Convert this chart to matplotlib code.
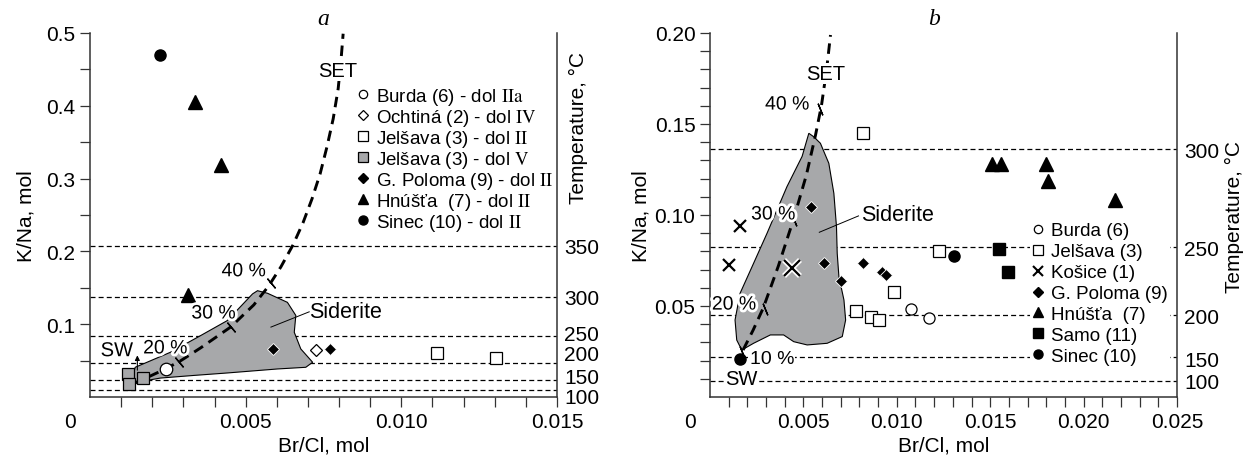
import numpy as np
import matplotlib
matplotlib.use("Agg")
import matplotlib.pyplot as plt
from matplotlib.lines import Line2D
import matplotlib.patheffects as pe

plt.rcParams['font.family'] = ['Liberation Sans', 'DejaVu Sans']
plt.rcParams['mathtext.fontset'] = 'stix'

GRAY = '#a7a8aa'

# ---------------- panel a data ----------------
a_burda_x = [0.00245]
a_burda_y = [0.038]
a_ocht_x = [0.00726]
a_ocht_y = [0.064]
a_jel2_x = [0.01113, 0.01303]
a_jel2_y = [0.060, 0.053]
a_jel5_x = [0.00123, 0.00126, 0.00171]
a_jel5_y = [0.032, 0.018, 0.026]
a_polo_x = [0.00588, 0.0077]
a_polo_y = [0.066, 0.066]
a_hnus_x = [0.00336, 0.00422, 0.00315]
a_hnus_y = [0.405, 0.319, 0.140]
a_sinec_x = [0.00226]
a_sinec_y = [0.470]

a_set_x = [0.00139, 0.00242, 0.0029, 0.00355, 0.00452, 0.00526, 0.00574, 0.00613, 0.00652,
           0.00684, 0.00713, 0.00739, 0.00761, 0.00781, 0.00797, 0.00806, 0.00813]
a_set_y = [0.0179, 0.0385, 0.0495, 0.0674, 0.0962, 0.1265, 0.1526, 0.1787, 0.2089,
           0.2392, 0.2722, 0.3065, 0.3436, 0.3821, 0.4234, 0.4619, 0.499]
a_pct_x = [0.00287, 0.00452, 0.0058]
a_pct_y = [0.048, 0.0962, 0.157]

a_sid_x = [0.00134, 0.00145, 0.00183, 0.00258, 0.00355, 0.00441, 0.00522, 0.00538, 0.00570, 0.00634,
           0.00661, 0.00656, 0.00677, 0.00715, 0.00693, 0.00602, 0.00441, 0.00333, 0.00226, 0.00161]
a_sid_y = [0.0224, 0.0408, 0.0477, 0.0614, 0.0843, 0.105, 0.1416, 0.146, 0.1425, 0.130,
           0.112, 0.0889, 0.066, 0.0477, 0.0408, 0.0385, 0.033, 0.0296, 0.026, 0.0211]

a_temp_lines = [0.2076, 0.1375, 0.084, 0.047, 0.0234, 0.0096]
a_temp_pos = [0.2076, 0.1375, 0.088, 0.0605, 0.030, 0.0014]
a_temp_lab = ['350', '300', '250', '200', '150', '100']

# ---------------- panel b data ----------------
b_burda_x = [0.01075, 0.01174]
b_burda_y = [0.0482, 0.0432]
b_jel_x = [0.00821, 0.00986, 0.00783, 0.0086, 0.00905, 0.01228]
b_jel_y = [0.1452, 0.0579, 0.0473, 0.0441, 0.0423, 0.0804]
b_kos_x = [0.00161, 0.00104]
b_kos_y = [0.0941, 0.0725]
b_kos_big_x = [0.00439]
b_kos_big_y = [0.0707]
b_polo_x = [0.00543, 0.00609, 0.00703, 0.00821, 0.0092, 0.0094]
b_polo_y = [0.1046, 0.0738, 0.0637, 0.0738, 0.0685, 0.0670]
b_hnus_x = [0.01511, 0.01559, 0.01801, 0.0181, 0.02168]
b_hnus_y = [0.1278, 0.1278, 0.1278, 0.1187, 0.1082]
b_samo_x = [0.01547, 0.01595]
b_samo_y = [0.0811, 0.0689]
b_sinec_x = [0.00161, 0.01305]
b_sinec_y = [0.0207, 0.0775]

b_set_x = [0.00177, 0.00231, 0.00285, 0.00366, 0.00446, 0.00516, 0.00565, 0.00597, 0.00624, 0.00645]
b_set_y = [0.0258, 0.0368, 0.0489, 0.0720, 0.0973, 0.1220, 0.1440, 0.1604, 0.1797, 0.1989]
b_pct_x = [0.00172, 0.00292, 0.0045, 0.0059]
b_pct_y = [0.0247, 0.0484, 0.097, 0.158]

b_sid_x = [0.00529, 0.00493, 0.00412, 0.00305, 0.00233, 0.00161, 0.00134, 0.00143, 0.0017, 0.00233,
           0.00323, 0.00394, 0.00448, 0.0052, 0.00627, 0.00708, 0.00726, 0.00717, 0.0069, 0.00681,
           0.00677, 0.00663, 0.00636, 0.00591, 0.00555]
b_sid_y = [0.1449, 0.1322, 0.1156, 0.0899, 0.0734, 0.0570, 0.0423, 0.0313, 0.0258, 0.0295,
           0.0341, 0.0341, 0.0304, 0.0286, 0.0295, 0.0332, 0.0423, 0.0533, 0.0661, 0.0789,
           0.0936, 0.1119, 0.1284, 0.1394, 0.143]

b_temp_lines = [0.136, 0.0824, 0.045, 0.022, 0.0088]
b_temp_pos = [0.136, 0.0824, 0.045, 0.0214, 0.0093]
b_temp_lab = ['300', '250', '200', '150', '100']

fig = plt.figure(figsize=(12.54, 4.6), dpi=100)
axa = fig.add_axes([0.0718, 0.1348, 0.3724, 0.7913])
axb = fig.add_axes([0.5662, 0.1348, 0.3724, 0.7913])

FS = 15
hline = dict(color='black', lw=0.9, ls=(0, (4, 2.5)), zorder=1)
setline = dict(color='black', lw=2.1, ls=(0, (3.6, 2.3)), zorder=3)
halo = [pe.withStroke(linewidth=4, foreground='white')]
bbox_w = dict(boxstyle='square,pad=0.05', fc='white', ec='none')


def frame(ax, xmax, ymax, ypad):
    ax.set_xlim(0, xmax)
    ax.set_ylim(0, ymax)
    ax.spines['top'].set_visible(False)
    ax.tick_params(axis='both', which='both', direction='out', length=7, width=0.9,
                   color='#333333')
    ax.tick_params(axis='both', labelsize=FS)
    ax.tick_params(axis='x', pad=4)
    for s in ['left', 'bottom', 'right']:
        ax.spines[s].set_linewidth(1.1)
        ax.spines[s].set_color('#333333')
    ax.set_xlabel('Br/Cl, mol', fontsize=FS, labelpad=3)
    ax.set_ylabel('K/Na, mol', fontsize=FS, labelpad=ypad)
    ax.annotate('0', xy=(0, 0), xycoords='data', xytext=(-20, -25), textcoords='offset pixels',
                ha='center', va='center', fontsize=FS)


# ---------------- panel a ----------------
frame(axa, 0.015, 0.5, 8)
axa.set_xticks([0.005, 0.010, 0.015])
axa.set_xticklabels(['0.005', '0.010', '0.015'])
axa.set_xticks(np.arange(0.001, 0.0151, 0.001), minor=True)
axa.set_yticks([0.1, 0.2, 0.3, 0.4, 0.5])
axa.set_yticklabels(['0.1', '0.2', '0.3', '0.4', '0.5'])
axa.set_yticks([0.05, 0.15, 0.25, 0.35, 0.45], minor=True)

for yv in a_temp_lines:
    axa.axhline(yv, **hline)
axa.fill(a_sid_x, a_sid_y, facecolor=GRAY, edgecolor='black', lw=0.8, zorder=2)
axa.plot(a_set_x, a_set_y, **setline)
for px, py in zip(a_pct_x, a_pct_y):
    axa.plot(px, py, marker=(2, 2, 40), ms=9, mew=1.0, color='black', zorder=4)

axa.plot(a_burda_x, a_burda_y, 'o', ms=9, mfc='white', mec='black', mew=0.9, zorder=5)
axa.plot(a_ocht_x, a_ocht_y, 'D', ms=6.5, mfc='white', mec='black', mew=0.9, zorder=5)
axa.plot(a_jel2_x, a_jel2_y, 's', ms=8.5, mfc='white', mec='black', mew=0.9, zorder=5)
axa.plot(a_jel5_x, a_jel5_y, 's', ms=9, mfc=GRAY, mec='black', mew=0.9, zorder=5)
axa.plot(a_polo_x, a_polo_y, 'D', ms=6.5, mfc='black', mec='white', mew=0.6, zorder=5)
axa.plot(a_hnus_x, a_hnus_y, '^', ms=9.5, color='black', zorder=5)
axa.plot(a_sinec_x, a_sinec_y, 'o', ms=8, color='black', zorder=5)

axa.annotate('', xy=(0.00152, 0.061), xytext=(0.00152, 0.033),
             arrowprops=dict(arrowstyle='-|>', lw=0.8, color='black', mutation_scale=7), zorder=6)
axa.text(0.00086, 0.0636, 'SW', fontsize=14.5, ha='center', va='center', path_effects=halo, zorder=6)
axa.text(0.00242, 0.066, '20 %', fontsize=14, ha='center', va='center', path_effects=halo, zorder=6)
axa.text(0.00397, 0.114, '30 %', fontsize=14, ha='center', va='center', path_effects=halo, zorder=6)
axa.text(0.00494, 0.172, '40 %', fontsize=14, ha='center', va='center', path_effects=halo, zorder=6)
axa.text(0.00794, 0.448, 'SET', fontsize=14.5, ha='center', va='center', bbox=bbox_w, zorder=6)
axa.text(0.00705, 0.117, 'Siderite', fontsize=15.5, ha='left', va='center', zorder=6)
axa.plot([0.00581, 0.00704], [0.096, 0.117], color='black', lw=0.7, zorder=6)

h_a = [
    Line2D([], [], ls='', marker='o', ms=6, mfc='white', mec='black', mew=0.9),
    Line2D([], [], ls='', marker='D', ms=5, mfc='white', mec='black', mew=0.9),
    Line2D([], [], ls='', marker='s', ms=6.5, mfc='white', mec='black', mew=0.9),
    Line2D([], [], ls='', marker='s', ms=6.5, mfc=GRAY, mec='black', mew=0.9),
    Line2D([], [], ls='', marker='D', ms=5, mfc='black', mec='black'),
    Line2D([], [], ls='', marker='^', ms=7, color='black'),
    Line2D([], [], ls='', marker='o', ms=6.5, color='black'),
]
l_a = [r'Burda (6) - dol $\mathrm{IIa}$', r'Ochtiná (2) - dol $\mathrm{IV}$',
       r'Jelšava (3) - dol $\mathrm{II}$', r'Jelšava (3) - dol $\mathrm{V}$',
       r'G. Poloma (9) - dol $\mathrm{II}$', r'Hnúšťa  (7) - dol $\mathrm{II}$',
       r'Sinec (10) - dol $\mathrm{II}$']
axa.legend(h_a, l_a, loc='upper left', bbox_to_anchor=(0.57, 0.855), fontsize=13.5,
           frameon=False, borderpad=0, borderaxespad=0, labelspacing=0.0,
           handlelength=0.7, handletextpad=0.35)

ta = axa.twinx()
ta.set_ylim(0, 0.5)
ta.set_yticks(a_temp_pos)
ta.set_yticklabels(a_temp_lab)
ta.tick_params(axis='y', length=0, pad=5, labelsize=FS)
for s in ta.spines.values():
    s.set_visible(False)
axa.text(1.045, 0.742, 'Temperature, °C', rotation=90, transform=axa.transAxes,
         fontsize=FS, ha='center', va='center')
axa.text(0.5, 1.04, 'a', transform=axa.transAxes, fontsize=17, family='Liberation Serif',
         style='italic', ha='center', va='center')

# ---------------- panel b ----------------
frame(axb, 0.025, 0.2, 3)
axb.set_xticks([0.005, 0.010, 0.015, 0.020, 0.025])
axb.set_xticklabels(['0.005', '0.010', '0.015', '0.020', '0.025'])
axb.set_xticks(np.arange(0.001, 0.0245, 0.001), minor=True)
axb.set_yticks([0.05, 0.10, 0.15, 0.20])
axb.set_yticklabels(['0.05', '0.10', '0.15', '0.20'])
axb.set_yticks(np.arange(0.01, 0.2, 0.01), minor=True)

for yv in b_temp_lines:
    axb.axhline(yv, **hline)
axb.fill(b_sid_x, b_sid_y, facecolor=GRAY, edgecolor='black', lw=0.8, zorder=2)
axb.plot(b_set_x, b_set_y, **setline)
for px, py in zip(b_pct_x, b_pct_y):
    axb.plot(px, py, marker=(2, 2, 22), ms=9, mew=1.0, color='black', zorder=4)

axb.plot(b_burda_x, b_burda_y, 'o', ms=8, mfc='white', mec='black', mew=0.9, zorder=5)
axb.plot(b_jel_x, b_jel_y, 's', ms=8.5, mfc='white', mec='black', mew=0.9, zorder=5)
axb.plot(b_kos_x, b_kos_y, 'x', ms=9, mew=1.6, color='black', zorder=5)
axb.plot(b_kos_big_x, b_kos_big_y, 'x', ms=12, mew=4, color='white', zorder=5)
axb.plot(b_kos_big_x, b_kos_big_y, 'x', ms=11, mew=1.6, color='black', zorder=5)
axb.plot(b_polo_x, b_polo_y, 'D', ms=6.5, mfc='black', mec='white', mew=0.6, zorder=5)
axb.plot(b_hnus_x, b_hnus_y, '^', ms=9.5, color='black', zorder=5)
axb.plot(b_samo_x, b_samo_y, 's', ms=8, color='black', zorder=5)
axb.plot(b_sinec_x, b_sinec_y, 'o', ms=8, color='black', zorder=5)

axb.text(0.00167, 0.0099, 'SW', fontsize=14.5, ha='center', va='center', bbox=bbox_w, zorder=6)
axb.text(0.00333, 0.0214, '10 %', fontsize=14, ha='center', va='center', bbox=bbox_w, zorder=6)
axb.text(0.00129, 0.0505, '20 %', fontsize=14, ha='center', va='center', path_effects=halo, zorder=6)
axb.text(0.00339, 0.100, '30 %', fontsize=14, ha='center', va='center', path_effects=halo, zorder=6)
axb.text(0.00414, 0.1604, '40 %', fontsize=14, ha='center', va='center', path_effects=halo, zorder=6)
axb.text(0.00618, 0.178, 'SET', fontsize=14.5, ha='center', va='center', bbox=bbox_w, zorder=6)
axb.text(0.0081, 0.1005, 'Siderite', fontsize=15.5, ha='left', va='center', zorder=6)
axb.plot([0.00585, 0.00795], [0.0905, 0.0995], color='black', lw=0.7, zorder=6)

h_b = [
    Line2D([], [], ls='', marker='o', ms=6, mfc='white', mec='black', mew=0.9),
    Line2D([], [], ls='', marker='s', ms=6.5, mfc='white', mec='black', mew=0.9),
    Line2D([], [], ls='', marker='x', ms=7, mew=1.5, color='black'),
    Line2D([], [], ls='', marker='D', ms=5, mfc='black', mec='black'),
    Line2D([], [], ls='', marker='^', ms=7, color='black'),
    Line2D([], [], ls='', marker='s', ms=6.5, color='black'),
    Line2D([], [], ls='', marker='o', ms=6.5, color='black'),
]
l_b = ['Burda (6)', 'Jelšava (3)', 'Košice (1)', 'G. Poloma (9)', 'Hnúšťa  (7)', 'Samo (11)', 'Sinec (10)']
leg = axb.legend(h_b, l_b, loc='upper left', bbox_to_anchor=(0.685, 0.485), fontsize=13.5,
                 frameon=True, fancybox=False, borderpad=0.1, borderaxespad=0, labelspacing=0.2,
                 handlelength=0.7, handletextpad=0.35, facecolor='white', edgecolor='none', framealpha=1)
leg.set_zorder(7)

tb = axb.twinx()
tb.set_ylim(0, 0.2)
tb.set_yticks(b_temp_pos)
tb.set_yticklabels(b_temp_lab)
tb.tick_params(axis='y', length=0, pad=5, labelsize=FS)
for s in tb.spines.values():
    s.set_visible(False)
axb.text(1.124, 0.497, 'Temperature, °C', rotation=90, transform=axb.transAxes,
         fontsize=FS, ha='center', va='center')
axb.text(0.48, 1.04, 'b', transform=axb.transAxes, fontsize=17, family='Liberation Serif',
         style='italic', ha='center', va='center')

fig.savefig('out.png', dpi=100)
